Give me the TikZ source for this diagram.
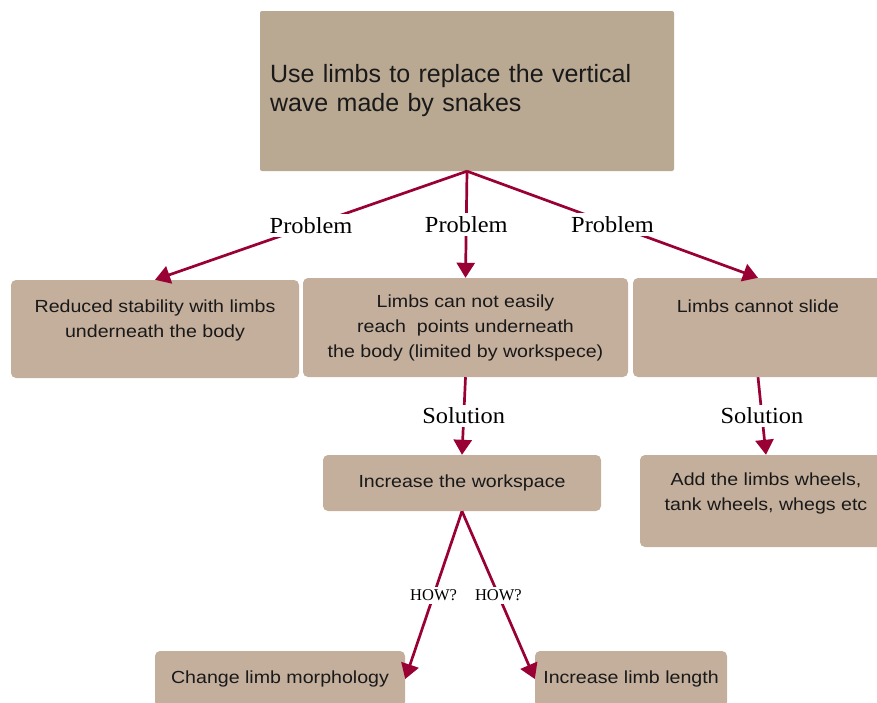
\documentclass[tikz,border=0pt]{standalone}
\usepackage{fontspec}
\setmainfont{Liberation Serif}
\newfontfamily\boxfont[FakeStretch=1.12]{Liberation Sans}
\newfontfamily\topfont{Liberation Sans}
\newfontfamily\lblfont[FakeStretch=1.06]{Liberation Serif}
\usepackage{tikz}
\usetikzlibrary{arrows.meta, positioning}
\definecolor{topfill}{RGB}{185,168,146}
\definecolor{boxfill}{RGB}{196,175,156}
\definecolor{arrowred}{RGB}{153,0,51}
\newcommand{\dropby}[1]{\rule[-#1]{0pt}{0pt}}

\begin{document}
\begin{tikzpicture}[
  x=1pt, y=-1pt,
  box/.style={fill=boxfill, rounded corners=5pt, inner sep=0pt, align=center, text=black!90, font=\boxfont\fontsize{17.5}{25}\selectfont},
  topbox/.style={fill=topfill, rounded corners=2pt, inner xsep=10pt, inner ysep=0pt, minimum width=414pt, minimum height=160pt, text width=394pt, align=left, text=black!90, font=\topfont\fontsize{25}{29}\selectfont},
  lbl/.style={fill=white, inner sep=3pt, font=\lblfont\fontsize{23}{25}\selectfont},
  how/.style={fill=white, inner sep=3pt, font=\fontsize{16.5}{18}\selectfont},
  link/.style={draw=arrowred, line width=2.7pt, -{Triangle[width=18pt,length=15pt]}}
]
  \useasboundingbox (0,0) rectangle (877,702);

  \node[topbox] (top) at (467,91) {Use limbs to replace the vertical\\wave made by snakes};

  % problems
  \node[box, minimum width=288pt, minimum height=98pt] (stab) at (155,329) {Reduced stability with limbs\\underneath the body\dropby{20pt}};
  \node[box, minimum width=325pt, minimum height=99pt] (reach) at (465.5,327.5) {Limbs can not easily\\reach\ \ points underneath\\the body (limited by workspece)};
  \node[box, minimum width=250pt, minimum height=99pt] (slide) at (758,327.5) {Limbs cannot slide\dropby{43pt}};

  % solutions
  \node[box, minimum width=278pt, minimum height=56pt] (wspace) at (462,483) {Increase the workspace};
  \node[box, minimum width=252pt, minimum height=92pt] (wheels) at (766,501) {Add the limbs wheels,\\tank wheels, whegs etc\dropby{18pt}};

  % how
  \node[box, minimum width=250pt, minimum height=56pt] (morph) at (280,679) {Change limb morphology};
  \node[box, minimum width=192pt, minimum height=56pt] (length) at (631,679) {Increase limb length};

  \draw[link] (top.south) -- node[lbl] {Problem} (stab.north);
  \draw[link] (top.south) -- node[lbl] {Problem} (reach.north);
  \draw[link] (top.south) -- node[lbl] {Problem} (slide.north);

  \draw[link] (reach.south) -- node[lbl] {Solution} (wspace.north);
  \draw[link] (slide.south) -- node[lbl] {Solution} (wheels.north);

  \draw[link] (wspace.south) -- node[how] {HOW?} (morph.east);
  \draw[link] (wspace.south) -- node[how] {HOW?} (length.west);
\end{tikzpicture}
\end{document}
